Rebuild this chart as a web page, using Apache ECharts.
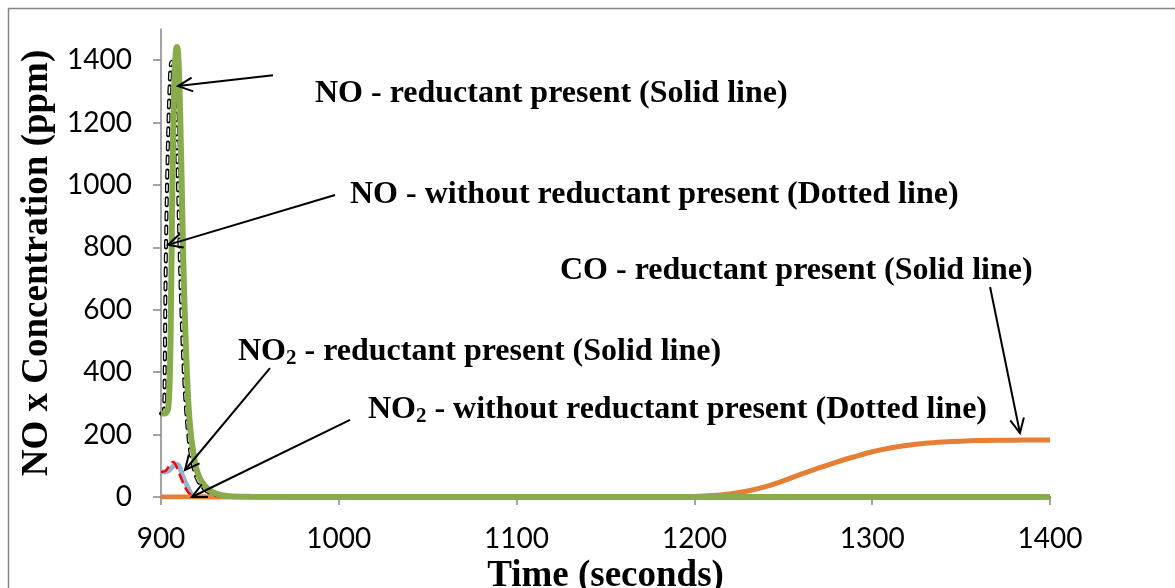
<!DOCTYPE html>
<html>
<head>
<meta charset="utf-8">
<script src="https://cdn.jsdelivr.net/npm/echarts@6/dist/echarts.min.js"></script>
<style>
  html, body { margin: 0; padding: 0; background: #fff; }
  #chart { width: 1175px; height: 588px; }
</style>
</head>
<body>
<div id="chart"></div>
<script>
// Axis ticks
const xTicks = [900, 1000, 1100, 1200, 1300, 1400];
const yTicks = [0, 200, 400, 600, 800, 1000, 1200, 1400];

// NO with reductant present (solid)
const timeNOr = [900, 901, 902, 903, 903.9, 904.6, 905.2, 905.7, 906.2, 906.7, 907.3, 907.9, 908.5, 909, 909.5, 910, 910.6, 911.2, 911.8, 912.4, 913.2, 914, 915, 916, 917, 918, 919, 920, 922, 924, 926, 928, 931, 935, 940, 950, 1000, 1100, 1200, 1300, 1400];
const noReductant = [268, 268, 268, 270, 280, 330, 450, 650, 900, 1120, 1290, 1390, 1435, 1442, 1430, 1380, 1270, 1120, 960, 790, 620, 480, 340, 250, 190, 150, 115, 88, 58, 40, 28, 19, 11, 5, 2, 0.5, 0, 0, 0, 0, 0];

// NO without reductant (dotted)
const timeNOw = [900, 901, 901.7, 902.1, 902.4, 902.8, 903.4, 904.2, 905, 905.6, 906.2, 906.9, 907.6, 908.4, 909.2, 910, 910.8, 911.7, 912.6, 913.5, 914.5, 915.5, 916.5, 918, 920, 922, 925, 929, 934, 940, 950, 1000, 1100, 1200, 1300, 1400];
const noWithout = [268, 268, 280, 400, 600, 800, 1000, 1200, 1340, 1390, 1395, 1370, 1310, 1230, 1080, 900, 720, 560, 430, 330, 250, 190, 145, 100, 62, 40, 22, 10, 4, 1, 0, 0, 0, 0, 0, 0];

// NO2 with reductant present (solid)
const timeNO2r = [900, 902, 903, 904, 905, 906, 907, 908, 909, 910, 911, 912, 913, 914, 915, 916, 917, 918, 920, 925, 1000, 1100, 1200, 1300, 1400];
const no2Reductant = [80, 80, 81, 84, 88, 94, 99, 103, 104, 100, 88, 70, 56, 44, 32, 20, 10, 4, 1, 0, 0, 0, 0, 0, 0];

// NO2 without reductant (dotted)
const timeNO2w = [900, 902, 903, 904, 905, 906, 906.8, 907.5, 908.5, 909.5, 910.5, 911.5, 912.5, 913.5, 914.5, 915.5, 916.5, 918, 920, 925, 1000, 1100, 1200, 1300, 1400];
const no2Without = [80, 82, 86, 94, 103, 110, 112, 110, 100, 86, 72, 58, 44, 32, 22, 14, 8, 3, 1, 0, 0, 0, 0, 0, 0];

// CO with reductant present (solid)
const timeCO = [900, 1000, 1100, 1150, 1180, 1190, 1200, 1210, 1220, 1230, 1240, 1250, 1260, 1270, 1280, 1290, 1300, 1310, 1320, 1330, 1340, 1350, 1360, 1370, 1380, 1390, 1400];
const coReductant = [0, 0, 0, 0, 0, 1, 2, 5, 10, 19, 33, 52, 73, 93, 112, 129, 145, 157, 166, 172, 176, 179, 181, 182, 182, 183, 183];

// Callout labels: text, anchor [time, ppm], arrow tail and tip [time, ppm]
const calloutTexts = [
  'NO - reductant present (Solid line)',
  'NO - without reductant present (Dotted line)',
  'CO - reductant present (Solid line)',
  'NO{sub|2} - reductant present (Solid line)',
  'NO{sub|2} - without reductant present (Dotted line)'
];
const calloutAnchors = [[986.6, 1294], [1006.3, 968], [1124.4, 724], [943.3, 465], [1016.4, 279]];
const arrowTails = [[963, 1352], [997.9, 968], [1366.3, 673], [961.3, 413], [1006.3, 247]];
const arrowTips = [[909.6, 1317], [903.9, 808], [1383.1, 205], [913.5, 86.5], [917.4, 0]];

const zip = (t, v) => t.map((x, i) => [x, v[i]]);

const chart = echarts.init(document.getElementById('chart'), null, { renderer: 'canvas' });

const tickFont = 'Lato';
const serif = '"Liberation Serif", "Times New Roman", serif';
const axisGray = '#868686';
const plain = (v) => String(v);

chart.setOption({
  animation: false,
  backgroundColor: '#fff',
  grid: { left: 161, right: 125, top: 29, bottom: 91, containLabel: false, outerBoundsMode: 'none' },
  xAxis: {
    type: 'value',
    min: xTicks[0], max: xTicks[xTicks.length - 1], interval: 100,
    name: 'Time (seconds)',
    nameLocation: 'middle',
    nameGap: 55,
    nameTextStyle: { fontFamily: serif, fontWeight: 'bold', fontSize: 37, color: '#000' },
    axisLine: { lineStyle: { color: axisGray, width: 1.5 } },
    axisTick: { show: true, inside: false, length: 8, lineStyle: { color: axisGray, width: 1.5 } },
    axisLabel: { margin: 28, fontFamily: tickFont, fontSize: 28, color: '#000', formatter: plain },
    splitLine: { show: false }
  },
  yAxis: {
    type: 'value',
    min: 0, max: 1500, interval: 200,
    name: 'NO x Concentration (ppm)',
    nameLocation: 'middle',
    nameGap: 94,
    nameTextStyle: { fontFamily: serif, fontWeight: 'bold', fontSize: 37, color: '#000' },
    axisLine: { show: true, lineStyle: { color: axisGray, width: 1.5 } },
    axisTick: { show: true, inside: false, length: 8, customValues: yTicks, lineStyle: { color: axisGray, width: 1.5 } },
    axisLabel: { margin: 29, fontFamily: tickFont, fontSize: 28, color: '#000', customValues: yTicks, formatter: plain },
    splitLine: { show: false }
  },
  series: [
    {
      name: 'NO2 - reductant present', type: 'line', data: zip(timeNO2r, no2Reductant),
      showSymbol: false, smooth: 0.3, lineStyle: { color: '#95B3D7', width: 5 }
    },
    {
      name: 'NO2 - without reductant', type: 'line', data: zip(timeNO2w, no2Without),
      showSymbol: false, smooth: 0.3, lineStyle: { color: '#FF0000', width: 2.5, type: [10, 5] }
    },
    {
      name: 'CO - reductant present', type: 'line', data: zip(timeCO, coReductant),
      showSymbol: false, smooth: 0.3, lineStyle: { color: '#E57F35', width: 5 }
    },
    {
      // hollow dashes: dark outer stroke ...
      name: 'NO - without reductant', type: 'line', data: zip(timeNOw, noWithout),
      showSymbol: false, smooth: 0.3, lineStyle: { color: '#000', width: 4, type: [7, 7], cap: 'round' }
    },
    {
      // ... with a light core on the same path
      name: 'NO - without reductant (core)', type: 'line', data: zip(timeNOw, noWithout),
      showSymbol: false, smooth: 0.3, silent: true, lineStyle: { color: '#fff', width: 1.5, type: [7, 7] }
    },
    {
      name: 'NO - reductant present', type: 'line', data: zip(timeNOr, noReductant),
      showSymbol: false, smooth: 0.3, lineStyle: { color: '#88AC4C', width: 6 }
    }
  ]
});

function toPx(p) { return chart.convertToPixel({ gridIndex: 0 }, p); }

function arrowParts(tail, tip) {
  const [x0, y0] = toPx(tail);
  const [x1, y1] = toPx(tip);
  const a = Math.atan2(y1 - y0, x1 - x0);
  const len = 16, spread = 0.45;
  const h1 = [x1 - len * Math.cos(a - spread), y1 - len * Math.sin(a - spread)];
  const h2 = [x1 - len * Math.cos(a + spread), y1 - len * Math.sin(a + spread)];
  return [
    { type: 'line', z: 100, shape: { x1: x0, y1: y0, x2: x1, y2: y1 }, style: { stroke: '#000', lineWidth: 2 } },
    { type: 'polyline', z: 100, shape: { points: [h1, [x1, y1], h2] }, style: { stroke: '#000', lineWidth: 2, fill: null } }
  ];
}

const graphics = [
  { type: 'rect', z: 0, shape: { x: 8.5, y: 8.5, width: 1400, height: 800 }, style: { fill: null, stroke: axisGray, lineWidth: 1.5 } }
];
calloutTexts.forEach((txt, i) => {
  const [x, y] = toPx(calloutAnchors[i]);
  graphics.push({
    type: 'text', z: 100, x: x, y: y,
    style: {
      text: txt, fill: '#000',
      fontFamily: serif, fontWeight: 'bold', fontSize: 32,
      align: 'left', verticalAlign: 'middle',
      rich: { sub: { fontFamily: serif, fontWeight: 'bold', fontSize: 21, verticalAlign: 'bottom', padding: [14, 0, 0, 0] } }
    }
  });
  graphics.push(...arrowParts(arrowTails[i], arrowTips[i]));
});

chart.setOption({ graphic: graphics });
</script>
</body>
</html>
